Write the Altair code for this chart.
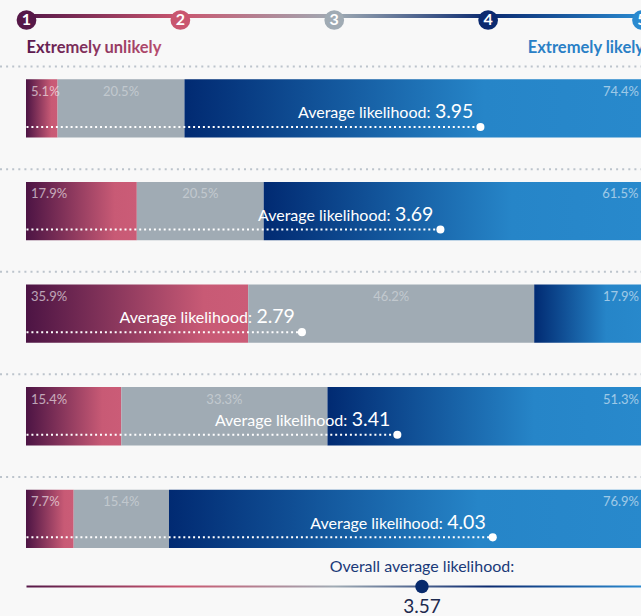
import altair as alt
import pandas as pd

# ---------------- data ----------------
rows = ["Q1", "Q2", "Q3", "Q4", "Q5"]
unlikely = [5.1, 17.9, 35.9, 15.4, 7.7]
neutral = [20.5, 20.5, 46.2, 33.3, 15.4]
likely = [74.4, 61.5, 17.9, 51.3, 76.9]
averages = [3.95, 3.69, 2.79, 3.41, 4.03]
overall_average = 3.57
scale_points = [1, 2, 3, 4, 5]
scale_colors = ["#561848", "#c9566f", "#a0abb4", "#0b2a70", "#2a8ad0"]
end_labels = ["Extremely unlikely", "Extremely likely"]

FONT = "Lato"

# ---------------- tables ----------------
seg = []
for r, u, n, l in zip(rows, unlikely, neutral, likely):
    seg.append({"row": r, "kind": "unlikely", "start": 0.0, "end": u, "val": u})
    seg.append({"row": r, "kind": "neutral", "start": u, "end": u + n, "val": n})
    seg.append({"row": r, "kind": "likely", "start": u + n, "end": u + n + l, "val": l})
seg = pd.DataFrame(seg)
seg["mid"] = (seg["start"] + seg["end"]) / 2
seg["lab"] = seg["val"].map(lambda v: f"{v}%")

avg_df = pd.DataFrame({"row": rows, "avg": averages, "base": [scale_points[0]] * len(rows)})
pts_df = pd.DataFrame({"pt": scale_points})
line_df = pd.DataFrame({"a": [scale_points[0]], "b": [scale_points[-1]]})
ends_df = pd.DataFrame({"pt": [scale_points[0], scale_points[-1]], "label": end_labels})
overall_df = pd.DataFrame({"avg": [overall_average],
                           "label": ["Overall average likelihood:"]})
rows_df = pd.DataFrame({"row": rows})

# ---------------- scales ----------------
PCT = alt.Scale(domain=[0, 100], range=[26, 645])
LIK = alt.Scale(domain=[1, 5], range=[26.5, 642])
YB = alt.Scale(type="band", domain=rows, range=[79.3, 548], paddingInner=0.432, paddingOuter=0)


def grad(stops):
    return {"gradient": "linear", "x1": 0, "x2": 1, "y1": 0, "y2": 0,
            "stops": [{"offset": o, "color": c} for o, c in stops]}


RED = grad([(0, "#4c1444"), (0.8, "#c85a75"), (1, "#cb5c77")])
GREY = "#a0abb4"
BLUE = grad([(0, "#012a72"), (0.65, "#2685c8"), (1, "#2889cc")])
SCALE_GRAD = grad([(0, scale_colors[0]), (0.25, scale_colors[1]), (0.5, scale_colors[2]),
                   (0.75, scale_colors[3]), (1, scale_colors[4])])

Y = alt.Y("row:N", scale=YB, axis=None)

layers = []

# separators
layers.append(
    alt.Chart(rows_df).mark_rule(yOffset=-41.9, strokeDash=[2, 4.1], strokeWidth=2,
                                 color="#bcc4cc")
    .encode(x=alt.value(0), x2=alt.value(641), y=Y)
)

# bar segments
for kind, fill in [("unlikely", RED), ("neutral", GREY), ("likely", BLUE)]:
    layers.append(
        alt.Chart(seg).transform_filter(alt.datum.kind == kind)
        .mark_bar(color=fill, opacity=1)
        .encode(x=alt.X("start:Q", scale=PCT, axis=None), x2="end:Q", y=Y)
    )

# percent labels
for kind, field, align, dx, op in [("unlikely", "start", "left", 5, 0.6),
                                   ("neutral", "mid", "center", 0, 0.35),
                                   ("likely", "end", "right", -6, 0.55)]:
    layers.append(
        alt.Chart(seg).transform_filter(alt.datum.kind == kind)
        .mark_text(align=align, dx=dx, dy=-16.7, baseline="middle", font=FONT,
                   fontSize=13, color="#ffffff", opacity=op)
        .encode(x=alt.X(f"{field}:Q", scale=PCT, axis=None), y=Y, text="lab:N")
    )

# average dotted lines
layers.append(
    alt.Chart(avg_df).mark_rule(yOffset=18.5, strokeDash=[2, 2.9], strokeWidth=2, color="white")
    .encode(x=alt.X("base:Q", scale=LIK, axis=None), x2="avg:Q", y=Y)
)
layers.append(
    alt.Chart(avg_df).mark_circle(yOffset=18.5, size=65, color="white", opacity=1)
    .encode(x=alt.X("avg:Q", scale=LIK, axis=None), y=Y)
)
layers.append(
    alt.Chart(avg_df).mark_text(align="right", dx=-7, dy=9.8, baseline="alphabetic",
                                font=FONT, fontSize=19.5, color="white")
    .encode(x=alt.X("avg:Q", scale=LIK, axis=None), y=Y,
            text=alt.Text("avg:Q", format=".2f"))
)
layers.append(
    alt.Chart(avg_df).mark_text(align="right", dx=-50, dy=9.8, baseline="alphabetic",
                                font=FONT, fontSize=16, color="white")
    .encode(x=alt.X("avg:Q", scale=LIK, axis=None), y=Y,
            text=alt.value("Average likelihood:"))
)

# top scale
layers.append(
    alt.Chart(line_df).mark_rect(color=SCALE_GRAD)
    .encode(x=alt.X("a:Q", scale=LIK, axis=None), x2="b:Q", y=alt.value(14), y2=alt.value(18))
)
layers.append(
    alt.Chart(pts_df).mark_circle(size=390, opacity=1)
    .encode(x=alt.X("pt:Q", scale=LIK, axis=None), y=alt.value(20),
            color=alt.Color("pt:N", scale=alt.Scale(domain=scale_points, range=scale_colors),
                            legend=None))
)
layers.append(
    alt.Chart(pts_df).mark_text(font=FONT, fontSize=16, fontWeight="bold", color="white",
                                baseline="middle")
    .encode(x=alt.X("pt:Q", scale=LIK, axis=None), y=alt.value(20), text="pt:N")
)
layers.append(
    alt.Chart(ends_df).transform_filter(alt.datum.pt == scale_points[0])
    .mark_text(align="left", baseline="alphabetic", font=FONT, fontSize=16.5, fontWeight="bold",
               fill=grad([(0, "#5a1a4e"), (1, "#b84d6e")]))
    .encode(x=alt.X("pt:Q", scale=LIK, axis=None), y=alt.value(53), text="label:N")
)
layers.append(
    alt.Chart(ends_df).transform_filter(alt.datum.pt == scale_points[-1])
    .mark_text(align="right", dx=2, baseline="alphabetic", font=FONT, fontSize=16.5,
               fontWeight="bold", color="#2a80c6")
    .encode(x=alt.X("pt:Q", scale=LIK, axis=None), y=alt.value(53), text="label:N")
)

# overall average
layers.append(
    alt.Chart(line_df).mark_rect(color=SCALE_GRAD)
    .encode(x=alt.X("a:Q", scale=LIK, axis=None), x2="b:Q", y=alt.value(585.5),
            y2=alt.value(587.5))
)
layers.append(
    alt.Chart(overall_df).mark_circle(size=180, color="#082a6c", opacity=1)
    .encode(x=alt.X("avg:Q", scale=LIK, axis=None), y=alt.value(586.5))
)
layers.append(
    alt.Chart(overall_df).mark_text(align="center", baseline="alphabetic", font=FONT,
                                    fontSize=16, color="#1b3a78")
    .encode(x=alt.X("avg:Q", scale=LIK, axis=None), y=alt.value(572), text="label:N")
)
layers.append(
    alt.Chart(overall_df).mark_text(align="center", baseline="alphabetic", font=FONT,
                                    fontSize=19, color="#1d2a4e")
    .encode(x=alt.X("avg:Q", scale=LIK, axis=None), y=alt.value(613),
            text=alt.Text("avg:Q", format=".2f"))
)

chart = (
    alt.layer(*layers)
    .resolve_scale(x="independent", y="independent", color="independent")
    .properties(width=641, height=616, background="#f8f8f8", padding=0, autosize="none")
    .configure_view(stroke=None)
)

chart.save("out.html", embed_options={"renderer": "svg", "actions": False})
